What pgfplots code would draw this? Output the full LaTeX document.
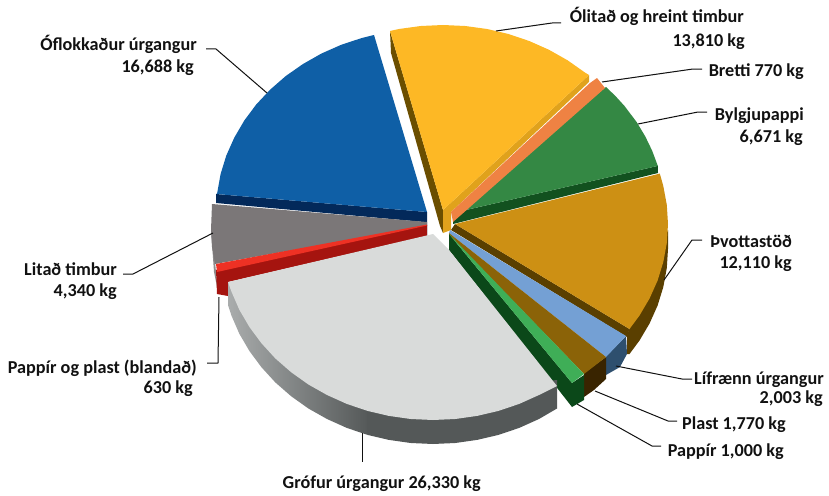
\documentclass[border=0pt]{standalone}
\usepackage{fontspec}
\setmainfont{Carlito}
\usepackage{pgfplots}
\pgfplotsset{compat=1.18}
\definecolor{cBlue}{HTML}{0F5FA6}
\definecolor{cNavy}{HTML}{03295A}
\definecolor{cYellow}{HTML}{FDB825}
\definecolor{cGold}{HTML}{E0A21C}
\definecolor{cBrownD}{HTML}{6B4E00}
\definecolor{cOrange}{HTML}{EF8243}
\definecolor{cGreen}{HTML}{348844}
\definecolor{cGreenD}{HTML}{12511F}
\definecolor{cAmber}{HTML}{CD9014}
\definecolor{cAmberD}{HTML}{5A3F00}
\definecolor{cLBlue}{HTML}{74A0D4}
\definecolor{cSteel}{HTML}{2E4F6E}
\definecolor{cBrown}{HTML}{8B6308}
\definecolor{cBrownX}{HTML}{392400}
\definecolor{cLGreen}{HTML}{3FAE57}
\definecolor{cDGreen}{HTML}{0B4819}
\definecolor{cLGrey}{HTML}{D9DBDA}
\definecolor{cSideA}{HTML}{A9ACAC}
\definecolor{cSideB}{HTML}{545858}
\definecolor{cGrey}{HTML}{7B7778}
\definecolor{cGreyD}{HTML}{8F8C8C}
\definecolor{cRed}{HTML}{EE3124}
\definecolor{cRedD}{HTML}{A5140F}
\definecolor{cText}{HTML}{111111}
\pgfplotsset{
  lead/.style={cText,line width=1pt,line join=round},
  face/.style={fill=#1,draw=none},
}
\newcommand{\lab}[3]{\node[anchor=base east,inner sep=0pt,text=cText,font=\fontsize{18.2}{21}\selectfont\bfseries] at (axis cs:#1,#2) {#3};}
\begin{document}
\begin{tikzpicture}
\begin{axis}[
  width=829pt,height=495pt,scale only axis,
  xmin=0,xmax=829,ymin=0,ymax=495,y dir=reverse,
  hide axis,clip=false,no markers,
]
\path (axis cs:0,0) rectangle (axis cs:829,495);
% Oflokkadur urgangur: side and top
\addplot[face=cNavy] coordinates {(216,194)(427,212)(427,237)(424,236)(424,222)(216,203)} -- cycle;
\addplot[face=cBlue] coordinates {(427,212)(216.5,194)(217.2,192.9)(220.6,174)(226.3,155.5)(234.3,137.6)(244.3,120.5)(256.3,104.4)(270.2,89.6)(285.8,76)(303,64)(321.5,53.5)(341.2,44.8)(361.8,38)(374,35)} -- cycle;
% Litad timbur
\addplot[face=cGreyD] coordinates {(211,230)(215,262)(218,292)(214,272)} -- cycle;
\addplot[face=cGrey] coordinates {(427,222)(212,204)(211,230)(212,247)(215,264)(427,226)} -- cycle;
% Pappir og plast (blandad)
\addplot[face=cRedD] coordinates {(216,270)(427,225)(427,236)(228,282)(228,296)(217,294)} -- cycle;
\addplot[face=cRed] coordinates {(216,264)(427,224.5)(427,225.5)(217,272)} -- cycle;
% Olitad og hreint timbur
\addplot[face=cBrownD] coordinates {(390,31)(443,210)(443,233)(440,226)(391,53)} -- cycle;
\addplot[face=cGold] coordinates {(443,210)(589,75)(589,82)(451,212)(451,230)(443,233)} -- cycle;
\addplot[face=cYellow] coordinates {(443,210)(390,31)(398.9,29)(420.8,26)(443,25)(465.2,26)(487.1,29)(508.5,34)(529.2,41)(549,49.8)(567.6,60.3)(584.9,72.5)(589,75)} -- cycle;
% Bylgjupappi
\addplot[face=cGreenD] coordinates {(453,213)(657.8,165.9)(658,173)(453,224)} -- cycle;
\addplot[face=cGreen] coordinates {(453,213)(657.8,165.9)(652.2,150.8)(645.1,136.1)(636.6,122)(624.5,106)(615.4,96)(606,87)} -- cycle;
% Bretti
\addplot[face=cOrange] coordinates {(590,83)(597,78)(605,88)(453,222)(451,212)} -- cycle;
% Thvottastod
\addplot[face=cAmberD] coordinates {(668,230)(668,249)(666.8,268)(663.3,287)(657.6,305.5)(649.6,323.4)(639.5,340.5)(629.5,354)(627,354)(627,335)} -- cycle;
\addplot[face=cAmberD] coordinates {(455,224)(629.5,329)(627,337)(451,230)} -- cycle;
\addplot[face=cAmber] coordinates {(455,224)(659.8,173.6)(663.3,186)(666.8,204.9)(668,224)(666.8,243.1)(663.3,262)(657.6,280.5)(649.6,298.4)(639.5,315.5)(629.5,329)} -- cycle;
% Lifraenn urgangur
\addplot[face=cSteel] coordinates {(626,336)(627,354)(620,367)(606,375)(606,356)} -- cycle;
\addplot[face=cLBlue] coordinates {(450,230)(626,336)(606,357)(449,233)} -- cycle;
% Plast
\addplot[face=cBrownX] coordinates {(606,357)(606,379)(594,390)(584,397)(584,373)} -- cycle;
\addplot[face=cBrown] coordinates {(449,233)(606,357)(584,374)(449,235)} -- cycle;
% Pappir
\addplot[face=cDGreen] coordinates {(449,234)(572,383)(584,375)(584,400)(572,407)(449,250)} -- cycle;
\addplot[face=cLGreen] coordinates {(449,234)(584,374)(572,383)} -- cycle;
% Grofur urgangur
\addplot[left color=cSideA,right color=cSideB,draw=none] coordinates {(228,282)(228,305)(231.4,315.5)(239.3,333.7)(249.4,351)(261.5,367.3)(275.4,382.5)(291.1,396.2)(308.4,408.5)(327,419)(346.8,427.9)(367.5,434.9)(370,430)(370,400)(240,300)} -- cycle;
\addplot[face=cSideB] coordinates {(367,400)(367.5,434.9)(388.9,439.9)(410.8,443)(433,444)(455.2,443)(477.1,439.9)(498.5,434.9)(519.2,427.9)(539,419)(557,408.5)(557,380)} -- cycle;
\addplot[face=cLGrey] coordinates {(433,234)(449,250)(557,386)(539,395)(519.2,403.9)(498.5,410.9)(477.1,415.9)(455.2,419)(433,420)(410.8,419)(388.9,415.9)(367.5,410.9)(346.8,403.9)(327,395)(308.4,384.5)(291.1,372.2)(275.4,358.5)(261.5,343.3)(249.4,327)(239.3,309.7)(231.4,291.5)(228,282)} -- cycle;
% Leader lines
\addplot[lead] coordinates {(496,31)(552,23)(561,23)};
\addplot[lead] coordinates {(602,82)(693,69)(702,69)};
\addplot[lead] coordinates {(638,124)(698,112)(707,112)};
\addplot[lead] coordinates {(664,280)(692,240)(702,240)};
\addplot[lead] coordinates {(616,366)(682,379)(692,379)};
\addplot[lead] coordinates {(595,391)(668,421)(677,421)};
\addplot[lead] coordinates {(577,404)(652,446)(661,446)};
\addplot[lead] coordinates {(362,433)(362,462)};
\addplot[lead] coordinates {(219,297)(218,363)(207,363)};
\addplot[lead] coordinates {(213,233)(133,274)(123,274)};
\addplot[lead] coordinates {(267,93)(216,49)(206,49)};
% Labels
\lab{744}{23}{Ólitað og hreint timbur}
\lab{745}{46}{13,810 kg}
\lab{804}{76}{Bretti 770 kg}
\lab{804}{120}{Bylgjupappi}
\lab{803}{142}{6,671 kg}
\lab{792}{247}{Þvottastöð}
\lab{792}{268}{12,110 kg}
\lab{824}{384}{Lífrænn úrgangur}
\lab{823}{403}{2,003 kg}
\lab{786}{429}{Plast 1,770 kg}
\lab{784}{456}{Pappír 1,000 kg}
\lab{481}{488}{Grófur úrgangur 26,330 kg}
\lab{117}{275}{Litað timbur}
\lab{117}{296}{4,340 kg}
\lab{197}{373}{Pappír og plast (blandað)}
\lab{193}{393}{630 kg}
\lab{197}{51}{Óflokkaður úrgangur}
\lab{194}{72}{16,688 kg}
\end{axis}
\end{tikzpicture}
\end{document}
